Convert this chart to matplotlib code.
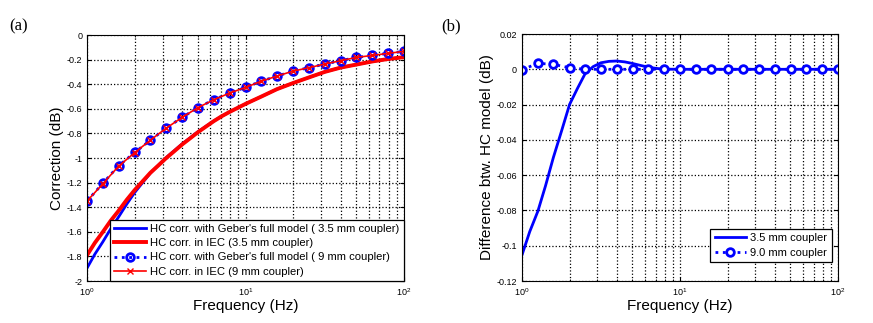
import matplotlib
matplotlib.use("Agg")
import matplotlib.pyplot as plt
from matplotlib.ticker import FixedLocator, FuncFormatter, LogLocator, NullFormatter

plt.rcParams['font.family'] = ['Liberation Sans', 'DejaVu Sans']
plt.rcParams['mathtext.fontset'] = 'custom'
plt.rcParams['mathtext.rm'] = 'Liberation Sans'

# frequencies (Hz) for the marked 9 mm curves, 10 points per decade
freq = [1.0, 1.26, 1.58, 2.0, 2.51, 3.16, 3.98, 5.01, 6.31, 7.94, 10.0,
        12.6, 15.8, 20.0, 25.1, 31.6, 39.8, 50.1, 63.1, 79.4, 100.0]
# denser frequencies for the solid 3.5 mm curves (steep at low freq)
freq_35 = [1.0, 1.12, 1.26, 1.41, 1.58, 1.78, 2.0, 2.24, 2.51, 2.82, 3.16, 3.55, 3.98,
           4.47, 5.01, 5.62, 6.31, 7.08, 7.94, 10.0,
           12.6, 15.8, 20.0, 25.1, 31.6, 39.8, 50.1, 63.1, 79.4, 100.0]

# panel (a) correction (dB)
geber_35 = [-1.895, -1.782, -1.68, -1.576, -1.48, -1.375, -1.28, -1.201, -1.1225, -1.0585, -0.9963, -0.9405, -0.8853,
            -0.8358, -0.7867, -0.7428, -0.6988, -0.6595, -0.6249, -0.56,
            -0.50, -0.44, -0.39, -0.345, -0.30, -0.265, -0.24, -0.215, -0.195, -0.18]
iec_35 = [-1.79, -1.69, -1.60, -1.51, -1.43, -1.34, -1.26, -1.19, -1.12, -1.06, -1.00, -0.945, -0.89,
          -0.84, -0.79, -0.745, -0.70, -0.66, -0.625, -0.56,
          -0.50, -0.44, -0.39, -0.345, -0.30, -0.265, -0.24, -0.215, -0.195, -0.18]
geber_9 = [-1.35, -1.205, -1.064, -0.955, -0.855, -0.757, -0.67, -0.59, -0.526, -0.472, -0.426,
           -0.375, -0.334, -0.293, -0.266, -0.236, -0.209, -0.182, -0.166, -0.149, -0.133]
iec_9 = [-1.35, -1.2085, -1.067, -0.956, -0.855, -0.757, -0.67, -0.59, -0.526, -0.472, -0.426,
         -0.375, -0.334, -0.293, -0.266, -0.236, -0.209, -0.182, -0.166, -0.149, -0.133]

# panel (b) difference (dB)
diff_35 = [-0.1053, -0.092, -0.0805, -0.066, -0.050, -0.035, -0.020, -0.011, -0.0025, 0.0015, 0.0037, 0.0045, 0.0047,
           0.0042, 0.0033, 0.0022, 0.0012, 0.0005, 0.0001, 0.0,
           0.0, 0.0, 0.0, 0.0, 0.0, 0.0, 0.0, 0.0, 0.0, 0.0]
diff_9 = [-0.0003, 0.0034, 0.0028, 0.0009, 0.0, 0.0, 0.0, 0.0, 0.0, 0.0, 0.0,
          0.0, 0.0, 0.0, 0.0, 0.0, 0.0, 0.0, 0.0, 0.0, 0.0]

yticks_a = [0, -0.2, -0.4, -0.6, -0.8, -1, -1.2, -1.4, -1.6, -1.8, -2]
yticks_b = [0.02, 0, -0.02, -0.04, -0.06, -0.08, -0.1, -0.12]


def style_axes(ax, yticks):
    ax.set_xscale('log')
    ax.set_xlim(1, 100)
    ax.set_ylim(min(yticks), max(yticks))
    ax.yaxis.set_major_locator(FixedLocator(yticks))
    ax.yaxis.set_major_formatter(FuncFormatter(lambda v, p: '%g' % v))
    ax.xaxis.set_major_locator(LogLocator(base=10))
    ax.xaxis.set_minor_locator(LogLocator(base=10, subs=range(2, 10)))
    ax.xaxis.set_minor_formatter(NullFormatter())
    ax.grid(True, which='major', color='black', linestyle=':', linewidth=0.9)
    ax.grid(True, which='minor', axis='x', color='black', linestyle=':', linewidth=0.9)
    ax.tick_params(which='both', direction='in', labelsize=6.5, top=True, right=True)
    ax.tick_params(which='major', length=3)
    ax.tick_params(which='minor', length=1.5)
    for s in ax.spines.values():
        s.set_linewidth(0.8)
    ax.set_xlabel('Frequency (Hz)', fontsize=11, labelpad=1)


fig = plt.figure(figsize=(8.73, 3.23), dpi=100)

# (a)
ax1 = fig.add_axes([0.0997, 0.130, 0.3631, 0.7616])
ax1.plot(freq_35, geber_35, color='blue', linewidth=2, label="HC corr. with Geber's full model ( 3.5 mm coupler)")
ax1.plot(freq_35, iec_35, color='red', linewidth=2.8, label='HC corr. in IEC (3.5 mm coupler)')
ax1.plot(freq, geber_9, color='blue', linestyle=':', linewidth=2, marker='o', markersize=5.5,
         markerfacecolor='none', markeredgewidth=2, label="HC corr. with Geber's full model ( 9 mm coupler)")
ax1.plot(freq, iec_9, color='red', linewidth=1.2, marker='x', markersize=4,
         label='HC corr. in IEC (9 mm coupler)')
style_axes(ax1, yticks_a)
ax1.set_ylabel('Correction (dB)', fontsize=11, labelpad=2)
leg1 = ax1.legend(loc='lower right', fontsize=8.1, handlelength=2.8, labelspacing=0.36,
                  borderaxespad=0, fancybox=False, framealpha=1, edgecolor='black',
                  borderpad=0.4, handletextpad=0.4)
leg1.get_frame().set_linewidth(0.9)

# (b)
ax2 = fig.add_axes([0.5979, 0.130, 0.362, 0.7647])
ax2.plot(freq_35, diff_35, color='blue', linewidth=2, label='3.5 mm coupler')
ax2.plot(freq, diff_9, color='blue', linestyle=':', linewidth=2, marker='o', markersize=5.5,
         markerfacecolor='white', markeredgewidth=2, label='9.0 mm coupler')
style_axes(ax2, yticks_b)
ax2.set_ylabel('Difference btw. HC model (dB)', fontsize=11, labelpad=2)
leg2 = ax2.legend(loc='lower right', bbox_to_anchor=(0.98, 0.077), fontsize=8, handlelength=2.8,
                  labelspacing=0.4, borderaxespad=0, fancybox=False, framealpha=1,
                  edgecolor='black', borderpad=0.4, handletextpad=0.4)
leg2.get_frame().set_linewidth(0.9)

fig.text(0.011, 0.905, '(a)', fontsize=12, family='Liberation Serif')
fig.text(0.505, 0.905, '(b)', fontsize=12, family='Liberation Serif')

fig.savefig('out.png', dpi=100)
